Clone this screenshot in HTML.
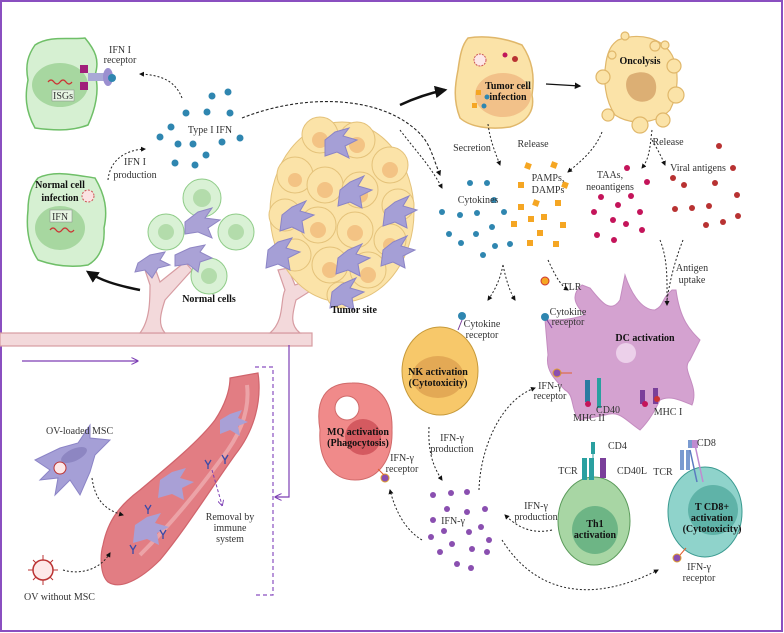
<!DOCTYPE html>
<html><head><meta charset="utf-8"><style>
html,body{margin:0;padding:0;background:#fff}
svg{display:block}
text{font-family:"Liberation Serif",serif;font-size:10px;fill:#333}
.b{font-weight:bold;fill:#111}
.c{text-anchor:middle}
</style></head><body>
<svg width="784" height="633" viewBox="0 0 784 633" xmlns="http://www.w3.org/2000/svg">
<defs>
<marker id="ah" viewBox="0 0 10 10" refX="8" refY="5" markerWidth="5" markerHeight="5" orient="auto"><path d="M0,0L10,5L0,10z" fill="#111"/></marker>
<marker id="ap" viewBox="0 0 10 10" refX="8" refY="5" markerWidth="6" markerHeight="6" orient="auto"><path d="M0,0L10,5L0,10" fill="none" stroke="#7d3fb5" stroke-width="1.5"/></marker>
<marker id="big" viewBox="0 0 10 10" refX="8" refY="5" markerWidth="5" markerHeight="5" orient="auto"><path d="M0,0L10,5L0,10z" fill="#111"/></marker>
</defs>
<rect x="1" y="1" width="781" height="630" fill="#fff" stroke="#8a4fc0" stroke-width="2"/>

<!-- vessels top -->
<g fill="#f3d9db" stroke="#d79ca2" stroke-width="1.2">
<rect x="0" y="333" width="312" height="13"/>
<path d="M140,333 C150,320 150,300 150,285 L145,270 L155,268 L160,282 L185,262 L192,270 L165,300 C160,315 158,325 165,333 Z"/>
<path d="M270,333 C285,320 280,300 285,290 L278,270 L288,268 L295,285 L310,280 L312,290 L296,300 C292,315 290,325 300,333 Z"/>
</g>
<!-- green ISG cell -->
<path d="M35,45 C50,35 70,40 85,38 C95,50 100,60 95,75 C100,90 95,110 88,125 C70,132 50,130 35,128 C25,110 25,95 28,80 C25,65 28,55 35,45Z" fill="#d6f0d2" stroke="#6fbf68" stroke-width="1.5"/>
<ellipse cx="60" cy="85" rx="28" ry="22" fill="#a7d7a0"/>
<rect x="52" y="90" width="22" height="11" fill="#e6f5e2" stroke="#888" stroke-width=".5"/><text x="63" y="99" class="c" font-size="9">ISGs</text>
<path d="M48,82 q3,-4 6,0 q3,4 6,0 q3,-4 6,0 q3,4 6,0" stroke="#c33" fill="none" stroke-width="1.2"/>
<rect x="80" y="65" width="8" height="8" fill="#a0207a"/><rect x="80" y="82" width="8" height="8" fill="#a0207a"/>
<rect x="88" y="73" width="18" height="8" fill="#a9a9d6"/>
<ellipse cx="108" cy="77" rx="5" ry="9" fill="#9b8fd0"/><circle cx="112" cy="78" r="4" fill="#2f86b0"/>
<text x="120" y="53" class="c">IFN I</text><text x="120" y="63" class="c">receptor</text>
<path d="M182,98 C175,80 160,75 140,74" fill="none" stroke="#222" stroke-dasharray="2,2" marker-end="url(#ah)"/>

<!-- Normal cell infection -->
<path d="M38,178 C55,170 75,175 95,178 C105,195 108,210 104,228 C105,245 100,258 88,265 C70,268 52,265 38,260 C28,245 26,228 28,210 C28,195 32,185 38,178Z" fill="#d6f0d2" stroke="#6fbf68" stroke-width="1.5"/>
<ellipse cx="60" cy="228" rx="25" ry="22" fill="#a7d7a0"/>
<text x="60" y="188" class="c b">Normal cell</text><text x="60" y="201" class="c b">infection</text>
<rect x="50" y="210" width="22" height="12" fill="#e6f5e2" stroke="#888" stroke-width=".5"/><text x="60" y="220" class="c" font-size="9">IFN</text>
<path d="M50,230 q3,-4 6,0 q3,4 6,0 q3,-4 6,0 q3,4 6,0" stroke="#c33" fill="none" stroke-width="1.2"/>
<circle cx="88" cy="196" r="6" fill="#fbe2e2" stroke="#c55" stroke-dasharray="2,1.5"/>
<text x="135" y="165" class="c">IFN I</text><text x="135" y="178" class="c">production</text>
<path d="M108,180 C110,160 125,150 145,149" fill="none" stroke="#222" stroke-dasharray="2,2" marker-end="url(#ah)"/>

<!-- Type I IFN dots -->
<g fill="#2f86b0">
<circle cx="212" cy="96" r="3.5"/><circle cx="228" cy="92" r="3.5"/><circle cx="186" cy="113" r="3.5"/><circle cx="207" cy="112" r="3.5"/><circle cx="230" cy="113" r="3.5"/><circle cx="171" cy="127" r="3.5"/><circle cx="160" cy="137" r="3.5"/><circle cx="178" cy="144" r="3.5"/><circle cx="193" cy="144" r="3.5"/><circle cx="222" cy="142" r="3.5"/><circle cx="240" cy="138" r="3.5"/><circle cx="206" cy="155" r="3.5"/><circle cx="175" cy="163" r="3.5"/><circle cx="195" cy="165" r="3.5"/>
</g>
<text x="210" y="133" class="c">Type I IFN</text>
<path d="M242,118 C300,95 370,95 410,125 C430,140 430,150 440,175" fill="none" stroke="#222" stroke-dasharray="3,2" stroke-width="1.1" marker-end="url(#ah)"/>

<!-- normal cells cluster -->
<g fill="#d9f1d5" stroke="#8fcc88">
<circle cx="202" cy="198" r="19"/><circle cx="166" cy="232" r="18"/><circle cx="236" cy="232" r="18"/><circle cx="209" cy="276" r="18"/>
</g>
<g fill="#b3dcab"><circle cx="202" cy="198" r="9"/><circle cx="166" cy="232" r="8"/><circle cx="236" cy="232" r="8"/><circle cx="209" cy="276" r="8"/></g>
<g fill="#aaa2d6" stroke="#8f86c4">
<path d="M185,222 L198,212 L212,208 L205,218 L220,220 L208,228 L212,238 L198,232 L185,234 Z"/>
<path d="M175,255 L190,248 L205,245 L200,252 L212,258 L200,262 L198,272 L188,264 L175,266 Z"/>
<path d="M138,263 L150,255 L165,252 L160,260 L170,265 L158,268 L152,278 L145,270 L135,272 Z"/>
</g>
<text x="209" y="302" class="c b">Normal cells</text>
<path d="M140,290 C115,285 100,280 88,272" fill="none" stroke="#111" stroke-width="2.5" marker-end="url(#big)"/>

<!-- tumor mass -->
<g stroke="#e4c27a" stroke-width="1">
<ellipse cx="342" cy="212" rx="72" ry="90" fill="#fbe3a8"/>
<g fill="#fbe3a8">
<circle cx="320" cy="135" r="18"/><circle cx="357" cy="140" r="18"/><circle cx="390" cy="165" r="18"/><circle cx="295" cy="175" r="18"/><circle cx="325" cy="185" r="18"/><circle cx="360" cy="190" r="18"/><circle cx="398" cy="205" r="16"/><circle cx="285" cy="215" r="16"/><circle cx="318" cy="225" r="18"/><circle cx="355" cy="230" r="18"/><circle cx="390" cy="240" r="16"/><circle cx="295" cy="255" r="16"/><circle cx="330" cy="265" r="18"/><circle cx="368" cy="270" r="18"/><circle cx="340" cy="295" r="13"/>
</g></g>
<g fill="#f3c384">
<circle cx="320" cy="140" r="8"/><circle cx="357" cy="145" r="8"/><circle cx="390" cy="170" r="8"/><circle cx="295" cy="180" r="7"/><circle cx="325" cy="190" r="8"/><circle cx="360" cy="195" r="8"/><circle cx="318" cy="230" r="8"/><circle cx="355" cy="233" r="8"/><circle cx="390" cy="245" r="7"/><circle cx="330" cy="270" r="8"/><circle cx="368" cy="275" r="8"/>
</g>
<g fill="#a59fd6" stroke="#8b84c6">
<path d="M325,140 l10,-8 l14,-4 l-6,8 l14,4 l-12,6 l4,12 l-12,-6 l-12,4z"/>
<path d="M340,190 l10,-8 l14,-6 l-6,10 l14,4 l-12,6 l2,12 l-12,-6 l-12,4z"/>
<path d="M282,215 l10,-8 l14,-6 l-6,10 l14,4 l-12,6 l2,12 l-12,-6 l-12,4z"/>
<path d="M385,210 l10,-8 l14,-6 l-6,10 l14,4 l-12,6 l2,12 l-12,-6 l-12,4z"/>
<path d="M268,250 l10,-8 l14,-4 l-6,10 l14,4 l-12,6 l2,12 l-12,-6 l-12,4z"/>
<path d="M338,258 l10,-8 l14,-6 l-6,10 l14,4 l-12,6 l2,12 l-12,-6 l-12,4z"/>
<path d="M383,250 l10,-8 l14,-6 l-6,10 l14,4 l-12,6 l2,12 l-12,-6 l-12,4z"/>
<path d="M332,292 l10,-8 l14,-6 l-6,10 l14,4 l-12,6 l2,12 l-12,-6 l-12,4z"/>
</g>
<text x="354" y="313" class="c b">Tumor site</text>

<!-- lower left -->
<path d="M22,361 L137,361" stroke="#7d3fb5" stroke-width="1.2" marker-end="url(#ap)"/>
<path d="M289,345 L289,497 L276,497" fill="none" stroke="#7d3fb5" stroke-width="1.2" marker-end="url(#ap)"/>
<path d="M255,367 L273,367 L273,595 L255,595" fill="none" stroke="#8a4fc0" stroke-width="1.2" stroke-dasharray="4,3"/>
<!-- red vessel -->
<path d="M230,378 L258,373 C262,400 255,430 235,455 C210,490 185,530 160,560 C140,580 120,590 108,582 C100,575 100,555 103,545 C108,520 120,505 140,490 C170,465 200,440 215,420 C225,405 230,390 230,378Z" fill="#e27d83" stroke="#d0646c" stroke-width="1.2"/>
<path d="M247,385 C250,410 240,435 222,458 C195,495 170,525 140,555" fill="none" stroke="#eca3a7" stroke-width="4"/>
<g fill="#a9a0d6"><path d="M220,420 l10,-6 l12,-4 l-4,8 l10,4 l-10,4 l2,10 l-10,-6 l-10,4z"/>
<path d="M160,480 l12,-8 l14,-4 l-6,10 l14,4 l-12,6 l2,12 l-12,-6 l-14,4z"/>
<path d="M135,525 l12,-8 l14,-4 l-6,10 l14,4 l-12,6 l2,12 l-12,-6 l-14,4z"/></g>
<g stroke="#3a4aa8" stroke-width="1.3" fill="none">
<path d="M205,460 l3,5 l3,-5 M208,465 v4"/><path d="M145,505 l3,5 l3,-5 M148,510 v4"/><path d="M130,545 l3,5 l3,-5 M133,550 v4"/><path d="M222,455 l3,5 l3,-5 M225,460 v4"/><path d="M160,530 l3,5 l3,-5 M163,535 v4"/>
</g>
<path d="M212,470 L222,505" stroke="#7d3fb5" stroke-dasharray="3,2" marker-end="url(#ap)"/>
<text x="230" y="520" class="c">Removal by</text><text x="230" y="531" class="c">immune</text><text x="230" y="542" class="c">system</text>
<path d="M35,460 L60,448 L78,443 L90,425 L90,438 L110,440 L95,455 L90,472 L80,495 L70,480 L55,495 L58,478 L40,480 L50,470Z" fill="#a59fd6" stroke="#8b84c6"/>
<ellipse cx="74" cy="455" rx="14" ry="6" fill="#8d86c2" transform="rotate(-25 74 455)"/>
<circle cx="60" cy="468" r="6" fill="#fde8e8" stroke="#b33"/>
<text x="46" y="434">OV-loaded MSC</text>
<path d="M92,478 C95,500 105,510 123,515" fill="none" stroke="#222" stroke-dasharray="2,2" marker-end="url(#ah)"/>
<circle cx="43" cy="570" r="10" fill="#fde8e8" stroke="#b33" stroke-width="1.5"/>
<g stroke="#b33"><path d="M43,555v5M43,580v5M28,570h5M53,570h5M33,560l3,3M53,580l-3,-3M33,580l3,-3M53,560l-3,3"/></g>
<text x="24" y="600">OV without MSC</text>
<path d="M63,570 C80,575 100,570 110,553" fill="none" stroke="#222" stroke-dasharray="2,2" marker-end="url(#ah)"/>

<!-- Tumor cell infection -->
<path d="M468,38 C485,35 505,38 522,45 C532,60 535,75 532,95 C535,110 528,122 510,127 C490,130 470,127 460,118 C453,100 455,85 458,70 C460,55 462,45 468,38Z" fill="#fbe3a8" stroke="#e0b76a" stroke-width="1.5"/>
<ellipse cx="503" cy="95" rx="28" ry="22" fill="#f2c189"/>
<text x="508" y="89" class="c b">Tumor cell</text><text x="508" y="100" class="c b">infection</text>
<circle cx="480" cy="60" r="6" fill="#fde8e8" stroke="#c55" stroke-dasharray="2,1"/>
<circle cx="505" cy="55" r="2.5" fill="#c0175a"/><circle cx="515" cy="59" r="3" fill="#b83232"/>
<rect x="476" y="90" width="5" height="5" fill="#f5a623"/><rect x="472" y="103" width="5" height="5" fill="#f5a623"/><circle cx="487" cy="97" r="2.5" fill="#2f86b0"/><circle cx="484" cy="106" r="2.5" fill="#2f86b0"/>
<path d="M400,105 C415,98 430,93 445,90" fill="none" stroke="#111" stroke-width="2.5" marker-end="url(#big)"/>
<path d="M546,84 L580,86" stroke="#111" stroke-width="1.3" marker-end="url(#ah)"/>
<!-- Oncolysis -->
<g fill="#fbe3a8" stroke="#e0b76a" stroke-width="1.2">
<path d="M618,40 C640,32 662,38 672,55 C680,70 678,95 670,110 C655,125 630,125 615,115 C605,100 603,80 606,62 C608,50 612,44 618,40Z"/>
<circle cx="603" cy="77" r="7"/><circle cx="608" cy="115" r="6"/><circle cx="640" cy="125" r="8"/><circle cx="663" cy="120" r="7"/><circle cx="676" cy="95" r="8"/><circle cx="674" cy="66" r="7"/><circle cx="655" cy="46" r="5"/><circle cx="665" cy="45" r="4"/><circle cx="625" cy="36" r="4"/><circle cx="612" cy="55" r="4"/>
</g>
<path d="M630,75 C645,68 658,75 656,90 C655,102 640,105 632,98 C625,92 624,80 630,75Z" fill="#dcaf74"/>
<text x="640" y="64" class="c b">Oncolysis</text>
<!-- release arrows -->
<path d="M488,124 C490,140 495,152 500,165" fill="none" stroke="#222" stroke-dasharray="2,2" marker-end="url(#ah)"/>
<text x="472" y="151" class="c">Secretion</text>
<path d="M602,132 C595,150 580,162 568,172" fill="none" stroke="#222" stroke-dasharray="2,2" marker-end="url(#ah)"/>
<text x="533" y="147" class="c">Release</text>
<path d="M652,130 C650,145 650,158 642,168" fill="none" stroke="#222" stroke-dasharray="2,2" marker-end="url(#ah)"/>
<path d="M652,140 C658,150 662,158 665,165" fill="none" stroke="#222" stroke-dasharray="2,2" marker-end="url(#ah)"/>
<text x="668" y="145" class="c">Release</text>
<path d="M400,130 C415,150 430,165 442,188" fill="none" stroke="#222" stroke-dasharray="2,2" marker-end="url(#ah)"/>
<!-- cytokines -->
<g fill="#2f86b0">
<circle cx="470" cy="183" r="3"/><circle cx="487" cy="183" r="3"/><circle cx="494" cy="200" r="3"/><circle cx="442" cy="212" r="3"/><circle cx="460" cy="215" r="3"/><circle cx="477" cy="213" r="3"/><circle cx="504" cy="212" r="3"/><circle cx="492" cy="227" r="3"/><circle cx="449" cy="234" r="3"/><circle cx="476" cy="234" r="3"/><circle cx="461" cy="243" r="3"/><circle cx="495" cy="246" r="3"/><circle cx="510" cy="244" r="3"/><circle cx="483" cy="255" r="3"/>
</g>
<text x="478" y="203" class="c">Cytokines</text>
<g fill="#f5a623">
<rect x="525" y="163" width="6" height="6" transform="rotate(20 528 166)"/><rect x="551" y="162" width="6" height="6" transform="rotate(20 554 165)"/><rect x="518" y="182" width="6" height="6"/><rect x="562" y="182" width="6" height="6" transform="rotate(20 565 185)"/><rect x="518" y="204" width="6" height="6"/><rect x="533" y="200" width="6" height="6" transform="rotate(20 536 203)"/><rect x="555" y="200" width="6" height="6"/><rect x="528" y="216" width="6" height="6"/><rect x="541" y="214" width="6" height="6"/><rect x="511" y="221" width="6" height="6"/><rect x="560" y="222" width="6" height="6"/><rect x="537" y="230" width="6" height="6"/><rect x="527" y="240" width="6" height="6"/><rect x="553" y="241" width="6" height="6"/>
</g>
<text x="548" y="181" class="c">PAMPs,</text><text x="548" y="193" class="c">DAMPs</text>
<g fill="#c4145a">
<circle cx="627" cy="168" r="3"/><circle cx="647" cy="182" r="3"/><circle cx="601" cy="197" r="3"/><circle cx="631" cy="196" r="3"/><circle cx="594" cy="212" r="3"/><circle cx="618" cy="205" r="3"/><circle cx="640" cy="212" r="3"/><circle cx="613" cy="220" r="3"/><circle cx="626" cy="224" r="3"/><circle cx="642" cy="230" r="3"/><circle cx="597" cy="235" r="3"/><circle cx="614" cy="240" r="3"/>
</g>
<text x="610" y="178" class="c">TAAs,</text><text x="610" y="190" class="c">neoantigens</text>
<text x="698" y="171" class="c">Viral antigens</text>
<g fill="#b83232">
<circle cx="719" cy="146" r="3"/><circle cx="733" cy="168" r="3"/><circle cx="673" cy="178" r="3"/><circle cx="684" cy="185" r="3"/><circle cx="715" cy="183" r="3"/><circle cx="737" cy="195" r="3"/><circle cx="675" cy="209" r="3"/><circle cx="692" cy="208" r="3"/><circle cx="709" cy="206" r="3"/><circle cx="738" cy="216" r="3"/><circle cx="706" cy="225" r="3"/><circle cx="723" cy="222" r="3"/>
</g>
<!-- DC -->
<path d="M590,288 C600,300 610,315 620,300 L625,275 C630,290 640,310 655,310 C665,305 660,300 672,290 L676,290 C680,320 690,330 700,340 L690,360 C680,370 700,385 692,405 C680,400 670,395 660,400 C655,410 650,420 640,430 C625,420 620,410 605,415 L580,420 C570,410 575,395 565,390 C555,380 545,370 548,355 L545,320 C560,320 570,320 585,315 C575,305 570,295 582,285Z" fill="#d4a2d0" stroke="#c48cc0"/>
<circle cx="626" cy="353" r="10" fill="#ecd0ea"/>
<text x="645" y="341" class="c b">DC activation</text>
<rect x="585" y="380" width="5" height="22" fill="#2a7aa0"/><rect x="597" y="378" width="4" height="30" fill="#2aa0a0"/><circle cx="588" cy="404" r="3" fill="#c4145a"/>
<rect x="640" y="390" width="5" height="14" fill="#7a3f9a"/><rect x="653" y="388" width="5" height="16" fill="#7a3f9a"/><circle cx="645" cy="404" r="3" fill="#c4145a"/><circle cx="657" cy="399" r="3" fill="#c33"/>
<text x="589" y="421" class="c">MHC II</text><text x="608" y="413" class="c">CD40</text><text x="668" y="415" class="c">MHC I</text>
<circle cx="545" cy="281" r="4" fill="#f5a623" stroke="#c33"/><text x="572" y="290" class="c">TLR</text>
<path d="M548,260 C555,275 560,285 568,290" fill="none" stroke="#222" stroke-dasharray="2,2" marker-end="url(#ah)"/>
<circle cx="545" cy="317" r="4" fill="#2f86b0"/><line x1="547" y1="320" x2="552" y2="328" stroke="#7a3f9a"/>
<text x="568" y="315" class="c">Cytokine</text><text x="568" y="325" class="c">receptor</text>
<text x="692" y="271" class="c">Antigen</text><text x="692" y="283" class="c">uptake</text>
<path d="M660,240 C668,260 667,280 667,305" fill="none" stroke="#222" stroke-dasharray="2,2" marker-end="url(#ah)"/>
<path d="M683,240 C675,260 670,280 667,300" fill="none" stroke="#222" stroke-dasharray="2,2"/>
<!-- cytokine split arrows -->
<path d="M503,265 C500,280 495,290 488,300" fill="none" stroke="#222" stroke-dasharray="2,2" marker-end="url(#ah)"/>
<path d="M503,265 C506,280 510,292 515,300" fill="none" stroke="#222" stroke-dasharray="2,2" marker-end="url(#ah)"/>
<!-- NK -->
<ellipse cx="440" cy="371" rx="38" ry="44" fill="#f7c86a" stroke="#c79a3a"/>
<ellipse cx="438" cy="377" rx="26" ry="21" fill="#e3a955"/>
<text x="438" y="375" class="c b" font-size="9.5">NK activation</text><text x="438" y="386" class="c b" font-size="9.5">(Cytotoxicity)</text>
<circle cx="462" cy="316" r="4" fill="#2f86b0"/><line x1="462" y1="320" x2="458" y2="330" stroke="#7a3f9a"/>
<text x="482" y="327" class="c">Cytokine</text><text x="482" y="338" class="c">receptor</text>
<circle cx="557" cy="373" r="4" fill="#8a4fb0" stroke="#e0a030"/><line x1="561" y1="373" x2="572" y2="373" stroke="#e06030"/>
<text x="550" y="389" class="c">IFN-γ</text><text x="550" y="399" class="c">receptor</text>
<!-- MQ -->
<path d="M320,430 C315,400 325,383 352,383 C378,382 393,400 392,430 C393,460 378,480 355,480 C332,480 318,460 320,430Z" fill="#f08a8a" stroke="#d06a6a"/>
<circle cx="347" cy="408" r="12" fill="#fff" stroke="#d06a6a"/>
<circle cx="363" cy="437" r="18" fill="#d45a60"/>
<text x="358" y="435" class="c b" font-size="9.5">MQ activation</text><text x="358" y="446" class="c b" font-size="9.5">(Phagocytosis)</text>
<circle cx="385" cy="478" r="4" fill="#8a4fb0" stroke="#e0a030"/><line x1="378" y1="469" x2="384" y2="475" stroke="#e06030"/>
<text x="402" y="461" class="c">IFN-γ</text><text x="402" y="472" class="c">receptor</text>
<!-- IFN-gamma -->
<g fill="#8a4fb0">
<circle cx="433" cy="495" r="3"/><circle cx="451" cy="493" r="3"/><circle cx="467" cy="492" r="3"/><circle cx="447" cy="509" r="3"/><circle cx="467" cy="512" r="3"/><circle cx="485" cy="509" r="3"/><circle cx="433" cy="520" r="3"/><circle cx="444" cy="531" r="3"/><circle cx="469" cy="532" r="3"/><circle cx="481" cy="527" r="3"/><circle cx="431" cy="537" r="3"/><circle cx="452" cy="544" r="3"/><circle cx="472" cy="549" r="3"/><circle cx="489" cy="540" r="3"/><circle cx="440" cy="552" r="3"/><circle cx="487" cy="552" r="3"/><circle cx="457" cy="564" r="3"/><circle cx="471" cy="568" r="3"/>
</g>
<text x="453" y="524" class="c">IFN-γ</text>
<text x="452" y="441" class="c">IFN-γ</text><text x="452" y="452" class="c">production</text>
<path d="M429,427 C428,450 432,465 442,480" fill="none" stroke="#222" stroke-dasharray="2,2" marker-end="url(#ah)"/>
<path d="M479,490 C480,450 500,400 535,388" fill="none" stroke="#222" stroke-dasharray="2,2" marker-end="url(#ah)"/>
<path d="M422,540 C405,530 395,510 390,490" fill="none" stroke="#222" stroke-dasharray="2,2" marker-end="url(#ah)"/>
<path d="M502,540 C540,600 600,600 658,570" fill="none" stroke="#222" stroke-dasharray="2,2" marker-end="url(#ah)"/>
<path d="M552,530 C530,535 515,525 505,515" fill="none" stroke="#222" stroke-dasharray="2,2" marker-end="url(#ah)"/>
<text x="536" y="509" class="c">IFN-γ</text><text x="536" y="520" class="c">production</text>
<!-- Th1 -->
<ellipse cx="594" cy="521" rx="36" ry="44" fill="#a8d6a4" stroke="#5a9a5a"/>
<ellipse cx="595" cy="530" rx="23" ry="24" fill="#6db585"/>
<text x="595" y="527" class="c b">Th1</text><text x="595" y="538" class="c b">activation</text>
<rect x="582" y="458" width="5" height="22" fill="#2aa0a0"/><rect x="589" y="458" width="5" height="22" fill="#2aa0a0"/>
<rect x="591" y="442" width="4" height="12" fill="#2aa0a0"/><line x1="593" y1="454" x2="593" y2="480" stroke="#2aa0a0"/>
<rect x="600" y="458" width="6" height="20" fill="#7a3f9a"/>
<text x="608" y="449">CD4</text><text x="568" y="474" class="c">TCR</text><text x="632" y="474" class="c">CD40L</text>
<!-- CD8 -->
<ellipse cx="705" cy="512" rx="37" ry="45" fill="#8fd3cb" stroke="#3a9a90"/>
<ellipse cx="713" cy="510" rx="25" ry="25" fill="#5fb3a8"/>
<text x="712" y="510" class="c b" font-size="9.5">T CD8+</text><text x="712" y="521" class="c b" font-size="9.5">activation</text><text x="712" y="532" class="c b" font-size="9.5">(Cytotoxicity)</text>
<rect x="680" y="450" width="4" height="20" fill="#7a9ad0"/><rect x="686" y="450" width="4" height="20" fill="#7a9ad0"/>
<line x1="690" y1="450" x2="697" y2="482" stroke="#5a7ac0" stroke-width="1.5"/><line x1="695" y1="445" x2="703" y2="482" stroke="#c08ad0" stroke-width="1.5"/>
<rect x="688" y="440" width="6" height="8" fill="#7a9ad0"/><rect x="692" y="440" width="6" height="8" fill="#c08ad0"/>
<text x="697" y="446">CD8</text><text x="663" y="475" class="c">TCR</text>
<circle cx="677" cy="558" r="4" fill="#8a4fb0" stroke="#e0a030"/><line x1="680" y1="555" x2="686" y2="548" stroke="#e06030"/>
<text x="699" y="570" class="c">IFN-γ</text><text x="699" y="581" class="c">receptor</text>
</svg>
</body></html>
